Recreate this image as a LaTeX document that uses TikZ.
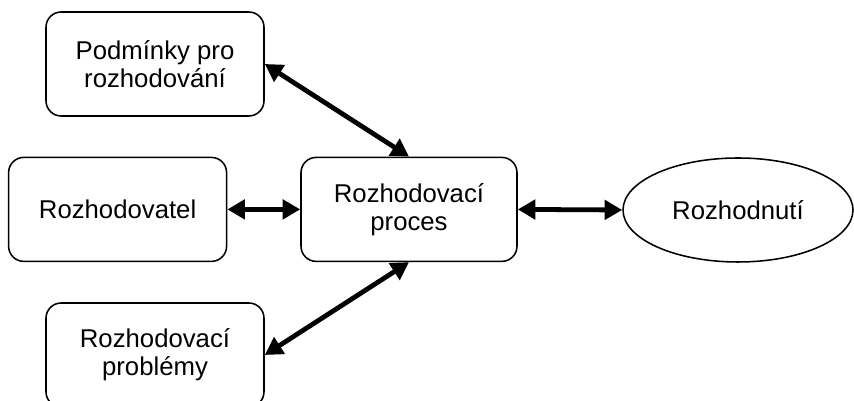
\documentclass[tikz,border=0pt]{standalone}
\usepackage{fontspec}
\setmainfont{Liberation Sans}
\usepackage{tikz}
\usetikzlibrary{arrows.meta,shapes}

\begin{document}
\begin{tikzpicture}[
    box/.style={draw, line width=1.1pt, rounded corners=0.38cm, minimum width=5.45cm,
        minimum height=2.6cm, align=center, inner sep=0pt,
        font=\fontsize{18.3}{20}\selectfont},
    oval/.style={draw, ellipse, line width=1.1pt, minimum width=5.75cm,
        minimum height=2.6cm, inner sep=0pt, font=\fontsize{18.3}{20}\selectfont},
    link/.style={line width=3.4pt, {Triangle[length=0.44cm,width=0.48cm]}-{Triangle[length=0.44cm,width=0.48cm]}}
]
    \useasboundingbox (0,0) rectangle (21.35,10.025);

    % Boxes
    \node[box] (podminky) at (3.875,8.425) {Podmínky pro\\rozhodování};
    \node[box] (rozhodovatel) at (2.94,4.79) {Rozhodovatel};
    \node[box, minimum width=5.4cm] (proces) at (10.225,4.79) {Rozhodovací\\proces};
    \node[box] (problemy) at (3.875,1.15) {Rozhodovací\\problémy};

    % Result
    \node[oval] (rozhodnuti) at (18.45,4.775) {Rozhodnutí};

    % Links
    \draw[link] (podminky.east) -- (proces.north);
    \draw[link] (rozhodovatel.east) -- (proces.west);
    \draw[link] (proces.south) -- (problemy.east);
    \draw[link] (proces.east) -- (rozhodnuti.west);
\end{tikzpicture}
\end{document}
